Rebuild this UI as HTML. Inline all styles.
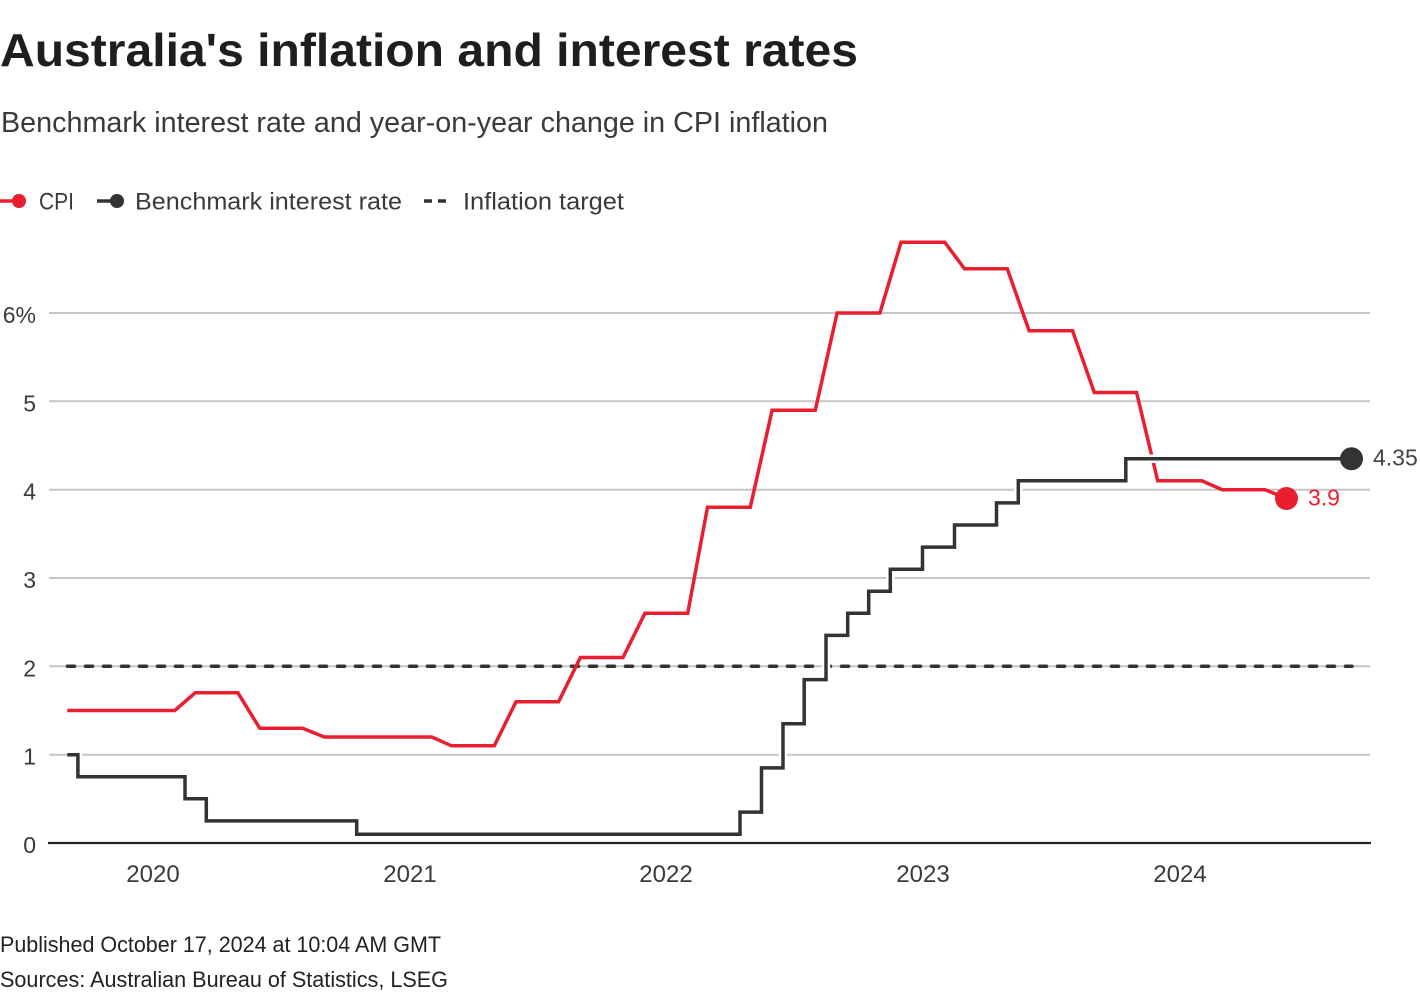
<!DOCTYPE html>
<html><head><meta charset="utf-8"><style>
html,body{margin:0;padding:0;background:#fff;}
svg{display:block;}
text{font-family:"Liberation Sans",sans-serif;}
</style></head><body>
<svg width="1420" height="1000" viewBox="0 0 1420 1000" xmlns="http://www.w3.org/2000/svg">
<rect width="1420" height="1000" fill="#fff"/>
<text x="0" y="66" font-size="46" font-weight="bold" fill="#1e1e1e" textLength="858" lengthAdjust="spacingAndGlyphs">Australia's inflation and interest rates</text>
<text x="1" y="132" font-size="29" fill="#3a3a3a" textLength="827" lengthAdjust="spacingAndGlyphs">Benchmark interest rate and year-on-year change in CPI inflation</text>

<!-- legend -->
<line x1="0" y1="201" x2="18" y2="201" stroke="#e91e2f" stroke-width="3.5"/>
<circle cx="19" cy="201" r="7" fill="#e91e2f"/>
<text x="39" y="209.5" font-size="24" fill="#3a3a3a" textLength="35" lengthAdjust="spacingAndGlyphs">CPI</text>
<line x1="97" y1="201" x2="115" y2="201" stroke="#333" stroke-width="3.5"/>
<circle cx="117" cy="201" r="7" fill="#333"/>
<text x="135" y="209.5" font-size="24" fill="#3a3a3a" textLength="267" lengthAdjust="spacingAndGlyphs">Benchmark interest rate</text>
<line x1="424" y1="201" x2="432" y2="201" stroke="#333" stroke-width="3.5"/>
<line x1="438" y1="201" x2="446" y2="201" stroke="#333" stroke-width="3.5"/>
<text x="463" y="209.5" font-size="24" fill="#3a3a3a" textLength="161" lengthAdjust="spacingAndGlyphs">Inflation target</text>

<!-- grid -->
<g stroke="#c6c6c6" stroke-width="2">
<line x1="49" y1="313" x2="1370" y2="313"/>
<line x1="49" y1="401.3" x2="1370" y2="401.3"/>
<line x1="49" y1="489.7" x2="1370" y2="489.7"/>
<line x1="49" y1="578" x2="1370" y2="578"/>
<line x1="49" y1="666.3" x2="1370" y2="666.3"/>
<line x1="49" y1="754.7" x2="1370" y2="754.7"/>
</g>
<line x1="48" y1="843" x2="1371" y2="843" stroke="#222" stroke-width="2.2"/>

<!-- y labels -->
<g font-size="23" fill="#3a3a3a" text-anchor="end">
<text x="36" y="323">6%</text>
<text x="36" y="411.3">5</text>
<text x="36" y="499.7">4</text>
<text x="36" y="588">3</text>
<text x="36" y="676.3">2</text>
<text x="36" y="764.7">1</text>
<text x="36" y="853">0</text>
</g>
<!-- x labels -->
<g font-size="24" fill="#3a3a3a" text-anchor="middle">
<text x="153" y="882">2020</text>
<text x="410" y="882">2021</text>
<text x="666" y="882">2022</text>
<text x="923" y="882">2023</text>
<text x="1180" y="882">2024</text>
</g>

<!-- inflation target -->
<line x1="67.5" y1="666.3" x2="1352" y2="666.3" stroke="#333" stroke-width="3.5" stroke-dasharray="7 11" stroke-linecap="round"/>

<!-- CPI -->
<polyline fill="none" stroke="#e91e2f" stroke-width="3.5" stroke-linejoin="miter" points="67.3,710.5 174.8,710.5 195.2,692.8 237.9,692.8 259.7,728.2 302.5,728.2 324.3,737 431.8,737 451.5,745.8 494.3,745.8 516,701.7 558.6,701.7 580.4,657.5 623,657.5 644.9,613.3 687.7,613.3 707.5,507.3 750.3,507.3 772.1,410.2 815.3,410.2 837.1,313 879.9,313 901,242.3 944.8,242.3 964.5,268.8 1007.3,268.8 1029.1,330.7 1072.5,330.7 1094.3,392.5 1136.6,392.5 1157.7,480.8 1201.8,480.8 1222.2,489.7 1265,489.7 1286.5,498.5"/>

<!-- Benchmark rate -->
<g fill="none" stroke-linejoin="miter">
<polyline stroke="#fff" stroke-width="8.5" points="67.3,754.7 77.9,754.7 77.9,776.75 185,776.75 185,798.8 206.3,798.8 206.3,820.9 356.7,820.9 356.7,834.2 740,834.2 740,812.1 761.5,812.1 761.5,767.9 783,767.9 783,723.75 804.2,723.75 804.2,679.6 826,679.6 826,635.4 847.7,635.4 847.7,613.3 868.7,613.3 868.7,591.25 890.3,591.25 890.3,569.2 922.5,569.2 922.5,547.1 954.5,547.1 954.5,525 996.5,525 996.5,502.9 1018.3,502.9 1018.3,480.8 1125.8,480.8 1125.8,458.75 1351.5,458.75"/>
<polyline stroke="#333" stroke-width="3.5" points="67.3,754.7 77.9,754.7 77.9,776.75 185,776.75 185,798.8 206.3,798.8 206.3,820.9 356.7,820.9 356.7,834.2 740,834.2 740,812.1 761.5,812.1 761.5,767.9 783,767.9 783,723.75 804.2,723.75 804.2,679.6 826,679.6 826,635.4 847.7,635.4 847.7,613.3 868.7,613.3 868.7,591.25 890.3,591.25 890.3,569.2 922.5,569.2 922.5,547.1 954.5,547.1 954.5,525 996.5,525 996.5,502.9 1018.3,502.9 1018.3,480.8 1125.8,480.8 1125.8,458.75 1351.5,458.75"/>
</g>

<!-- end dots and labels -->
<circle cx="1286.5" cy="498.5" r="11.5" fill="#e91e2f"/>
<circle cx="1351.5" cy="458.8" r="11.5" fill="#333"/>
<text x="1373" y="465.5" font-size="23" fill="#444">4.35</text>
<text x="1308" y="505.5" font-size="23" fill="#e91e2f">3.9</text>

<!-- footer -->
<text x="0" y="952" font-size="22" fill="#222" textLength="441" lengthAdjust="spacingAndGlyphs">Published October 17, 2024 at 10:04 AM GMT</text>
<text x="0" y="987" font-size="22" fill="#222" textLength="448" lengthAdjust="spacingAndGlyphs">Sources: Australian Bureau of Statistics, LSEG</text>
</svg>
</body></html>
